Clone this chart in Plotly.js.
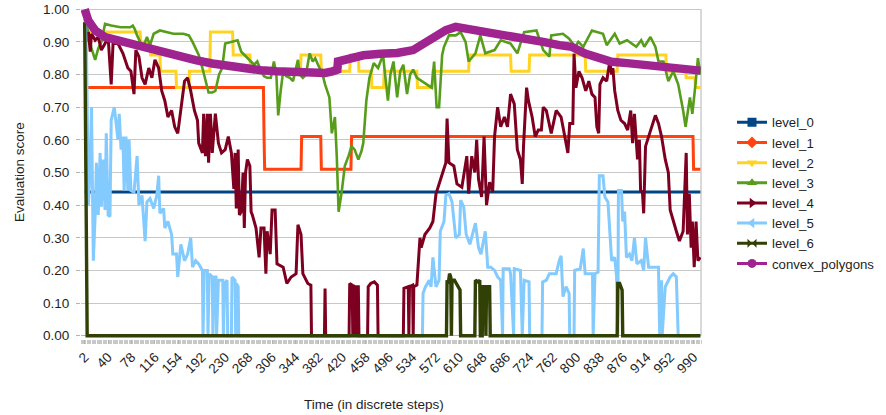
<!DOCTYPE html>
<html>
<head>
<meta charset="utf-8">
<script src="https://cdn.plot.ly/plotly-3.0.1.min.js"></script>
<style>html,body{margin:0;padding:0;background:#fff;}#chart{width:886px;height:415px;}</style>
</head>
<body>
<div id="chart"></div>
<script>
// ---- data: [time step, evaluation score] ----
const seriesNames = ["level_0","level_1","level_2","level_3","level_4","level_5","level_6","convex_polygons"];

const level0 = [[2,0.44],[1001,0.44]];

const level1 = [[2,0.76],[292,0.76],[293,0.61],[294,0.51],[353,0.51],[354,0.61],[385,0.61],[386,0.51],
  [434,0.51],[435,0.61],[989,0.61],[990,0.51],[1001,0.51]];

const level2 = [[2,0.96],[4,0.93],[92,0.93],[93,0.90],[108,0.90],[109,0.86],[124,0.86],[125,0.81],[150,0.81],
  [151,0.76],[171,0.76],[172,0.81],[205,0.81],[206,0.93],[242,0.93],[243,0.86],[270,0.86],[271,0.81],[352,0.81],
  [353,0.86],[385,0.86],[386,0.81],[432,0.81],[433,0.86],[446,0.86],[447,0.81],[467,0.81],[468,0.76],[487,0.76],
  [488,0.81],[541,0.81],[542,0.76],[566,0.76],[567,0.81],[625,0.81],[626,0.86],[693,0.86],[694,0.81],[723,0.81],
  [724,0.86],[814,0.86],[815,0.81],[866,0.81],[867,0.86],[945,0.86],[946,0.81],[977,0.81],[978,0.79],[992,0.79],
  [993,0.76],[1001,0.76]];

const level3 = [[2,0.97],[8,0.93],[13,0.88],[19,0.845],[24,0.88],[29,0.90],[35,0.955],[45,0.95],[60,0.945],
  [76,0.945],[80,0.95],[83,0.94],[87,0.92],[92,0.90],[98,0.89],[103,0.915],[108,0.89],[114,0.925],[124,0.935],
  [135,0.93],[146,0.925],[162,0.925],[171,0.92],[177,0.90],[182,0.88],[187,0.86],[193,0.82],[198,0.78],[203,0.745],
  [209,0.745],[214,0.75],[220,0.80],[225,0.82],[230,0.895],[241,0.90],[250,0.905],[256,0.87],[266,0.85],[277,0.83],
  [282,0.84],[288,0.81],[293,0.795],[298,0.79],[304,0.79],[309,0.84],[313,0.80],[316,0.675],[320,0.75],[324,0.81],
  [329,0.795],[335,0.79],[340,0.78],[348,0.845],[351,0.80],[356,0.79],[361,0.80],[367,0.865],[372,0.84],[376,0.85],
  [383,0.82],[388,0.80],[392,0.77],[399,0.73],[403,0.62],[408,0.67],[411,0.55],[414,0.38],[419,0.44],[424,0.52],
  [430,0.55],[435,0.58],[440,0.57],[446,0.54],[451,0.565],[454,0.59],[459,0.72],[464,0.79],[471,0.835],[478,0.82],
  [486,0.86],[494,0.72],[498,0.80],[503,0.84],[509,0.73],[514,0.81],[519,0.83],[525,0.74],[530,0.80],[535,0.815],
  [541,0.79],[550,0.78],[557,0.77],[565,0.76],[569,0.84],[573,0.70],[577,0.70],[582,0.86],[585,0.885],[593,0.92],
  [604,0.92],[612,0.93],[620,0.90],[625,0.84],[636,0.865],[644,0.92],[652,0.865],[667,0.875],[677,0.905],[693,0.895],
  [704,0.865],[715,0.93],[735,0.935],[746,0.875],[756,0.855],[759,0.92],[778,0.925],[788,0.91],[798,0.885],
  [803,0.90],[811,0.885],[825,0.935],[843,0.925],[849,0.89],[862,0.925],[870,0.895],[882,0.905],[897,0.885],
  [905,0.905],[910,0.885],[920,0.915],[928,0.885],[933,0.84],[941,0.84],[949,0.78],[957,0.81],[965,0.77],
  [973,0.69],[977,0.64],[984,0.73],[988,0.68],[993,0.77],[997,0.85],[1001,0.80]];

const level4 = [[2,0.95],[5,0.90],[8,0.93],[11,0.87],[13,0.925],[19,0.905],[24,0.915],[29,0.875],[35,0.895],
  [40,0.915],[45,0.77],[48,0.895],[56,0.895],[64,0.865],[72,0.82],[77,0.81],[82,0.74],[85,0.875],[90,0.855],
  [95,0.79],[100,0.77],[106,0.82],[111,0.79],[116,0.845],[122,0.82],[127,0.75],[132,0.72],[137,0.67],[143,0.69],
  [148,0.64],[153,0.62],[158,0.70],[164,0.78],[169,0.79],[174,0.75],[180,0.69],[185,0.66],[187,0.59],[193,0.56],
  [195,0.68],[198,0.55],[201,0.68],[203,0.53],[206,0.68],[209,0.56],[214,0.68],[219,0.59],[224,0.56],[230,0.57],
  [235,0.61],[240,0.56],[244,0.45],[246,0.56],[248,0.39],[251,0.57],[253,0.37],[256,0.38],[259,0.50],[261,0.33],
  [263,0.50],[266,0.54],[270,0.52],[272,0.38],[274,0.37],[280,0.33],[285,0.24],[288,0.33],[293,0.33],[296,0.19],
  [298,0.32],[303,0.25],[306,0.385],[311,0.385],[314,0.22],[324,0.21],[330,0.16],[337,0.18],[345,0.19],[348,0.34],
  [353,0.31],[356,0.19],[364,0.16],[369,0.155],[370,0],[391,0],[392,0.145],[393,0],[431,0],[432,0.16],[436,0.155],
  [437,0],[438,0.155],[441,0.14],[442,0],[443,0.15],[446,0.15],[447,0],[461,0],[462,0.15],[466,0.16],[472,0.165],
  [477,0.155],[478,0],[519,0],[520,0.145],[527,0.15],[528,0],[529,0.15],[534,0.155],[535,0],[536,0.15],[541,0.155],
  [546,0.30],[548,0.27],[554,0.31],[562,0.33],[567,0.35],[572,0.435],[577,0.465],[583,0.50],[588,0.53],[590,0.665],
  [593,0.53],[601,0.52],[606,0.465],[614,0.455],[622,0.55],[625,0.435],[630,0.55],[635,0.50],[638,0.60],[641,0.48],
  [646,0.425],[650,0.61],[654,0.40],[659,0.47],[664,0.44],[667,0.61],[672,0.70],[677,0.64],[683,0.67],[688,0.64],
  [693,0.74],[699,0.71],[704,0.57],[709,0.54],[712,0.465],[714,0.58],[719,0.76],[722,0.72],[728,0.67],[733,0.61],
  [738,0.63],[743,0.63],[746,0.70],[751,0.69],[756,0.64],[759,0.62],[767,0.69],[775,0.67],[780,0.62],[786,0.56],
  [789,0.65],[794,0.65],[796,0.864],[799,0.76],[804,0.81],[809,0.79],[815,0.75],[820,0.78],[825,0.74],[830,0.73],
  [833,0.64],[836,0.62],[838,0.77],[843,0.79],[849,0.78],[854,0.84],[857,0.80],[859,0.82],[862,0.75],[867,0.69],
  [872,0.66],[878,0.65],[883,0.63],[888,0.69],[891,0.59],[894,0.68],[899,0.54],[902,0.60],[904,0.445],[907,0.44],
  [909,0.375],[912,0.58],[917,0.61],[922,0.64],[928,0.675],[933,0.65],[938,0.61],[944,0.54],[949,0.50],[952,0.385],
  [957,0.35],[962,0.32],[967,0.29],[973,0.32],[978,0.56],[980,0.31],[983,0.435],[986,0.27],[988,0.35],[991,0.21],
  [994,0.35],[997,0.23],[1001,0.24]];

const level5 = [[2,0.96],[3,0.965],[5,0.86],[8,0.40],[11,0.53],[13,0.70],[16,0.23],[19,0.37],[21,0.53],[24,0.37],
  [27,0.56],[29,0.395],[32,0.54],[35,0.385],[37,0.62],[40,0.37],[43,0.365],[45,0.66],[50,0.70],[53,0.64],[56,0.60],
  [58,0.68],[61,0.57],[64,0.61],[66,0.445],[69,0.61],[72,0.445],[74,0.60],[77,0.445],[82,0.44],[87,0.55],[90,0.40],
  [95,0.43],[100,0.29],[103,0.41],[108,0.42],[114,0.39],[119,0.43],[122,0.49],[124,0.375],[130,0.39],[132,0.33],
  [137,0.35],[143,0.31],[145,0.25],[151,0.25],[153,0.18],[158,0.28],[164,0.23],[169,0.25],[174,0.30],[177,0.21],
  [182,0.23],[187,0.22],[193,0.20],[194,0],[196,0.20],[201,0.20],[202,0],[204,0.19],[209,0.18],[210,0],[212,0.18],
  [215,0.18],[216,0],[219,0.17],[226,0.17],[227,0],[229,0.16],[233,0.17],[234,0],[240,0],[241,0.18],[246,0.17],
  [247,0],[248,0.16],[251,0.15],[252,0],[550,0],[551,0.13],[555,0.15],[561,0.17],[564,0.15],[567,0.24],[572,0.15],
  [577,0.17],[579,0.32],[585,0.35],[588,0.43],[593,0.435],[598,0.41],[604,0.30],[610,0.31],[612,0.415],[617,0.395],
  [621,0.31],[627,0.28],[636,0.345],[641,0.27],[645,0.25],[652,0.32],[656,0.21],[661,0.21],[667,0.20],[672,0.18],
  [677,0.17],[680,0],[681,0.205],[691,0.205],[693,0.19],[698,0],[699,0.205],[709,0.20],[712,0],[715,0.17],
  [723,0.165],[724,0],[744,0],[745,0.165],[751,0.17],[756,0.19],[762,0.19],[767,0.19],[772,0.23],[775,0.245],
  [778,0.12],[783,0.15],[788,0.13],[789,0],[796,0],[797,0.20],[806,0.205],[811,0.267],[814,0.19],[822,0.19],
  [826,0.19],[827,0],[830,0.19],[835,0.195],[837,0.49],[843,0.49],[846,0.425],[851,0.41],[854,0.30],[857,0.23],
  [862,0.24],[865,0.18],[867,0],[868,0.445],[873,0.445],[875,0.35],[878,0.38],[881,0.24],[886,0.25],[890,0.23],
  [894,0.30],[898,0.22],[905,0.23],[909,0.20],[912,0.30],[917,0.21],[925,0.21],[933,0.21],[935,0],[938,0.17],
  [939,0],[944,0.15],[952,0.18],[957,0.19],[962,0.18],[965,0],[1001,0]];

const level6 = [[2,0.96],[3,0.67],[4,0.41],[5,0.14],[6,0],[589,0],[590,0.17],[592,0.16],[594,0.19],[596,0.18],
  [597,0],[598,0.17],[602,0.17],[605,0.16],[608,0.15],[611,0.14],[612,0],[635,0],[636,0.17],[640,0.165],[643,0.17],
  [644,0],[647,0],[648,0.15],[652,0.15],[653,0],[654,0.15],[659,0.15],[660,0],[866,0],[867,0.16],[870,0.16],
  [872,0.15],[874,0.14],[875,0],[1001,0]];

const convexPolygons = [[2,1.00],[8,0.965],[19,0.935],[35,0.915],[56,0.905],[76,0.895],[103,0.88],[130,0.864],
  [155,0.854],[182,0.844],[209,0.834],[234,0.826],[261,0.82],[288,0.813],[313,0.81],[340,0.808],[367,0.806],
  [392,0.805],[404,0.81],[412,0.815],[413,0.84],[430,0.849],[454,0.859],[482,0.864],[509,0.866],[535,0.875],
  [562,0.905],[588,0.936],[604,0.946],[620,0.941],[641,0.936],[667,0.93],[693,0.92],[720,0.91],[746,0.90],
  [772,0.89],[792,0.885],[814,0.864],[835,0.849],[857,0.839],[882,0.835],[909,0.83],[936,0.825],[962,0.82],
  [988,0.815],[1001,0.812]];

const xTickStart = 2, xTickStep = 38;
const yTickStep = 0.1;

// ---- styles ----
const seriesData = [level0, level1, level2, level3, level4, level5, level6, convexPolygons];
const colors = ["#004586","#ff420e","#ffd320","#579d1c","#7e0021","#83caff","#314004","#a0248f"];
const symbols = ["square","diamond","triangle-down","triangle-up","triangle-right","triangle-left","bowtie","circle"];
const widths = [3,3,3,2.6,3,3,3.4,8.5];

const traces = [];
seriesData.forEach((d, i) => {
  traces.push({
    type: "scatter", mode: "lines", name: seriesNames[i], showlegend: false,
    x: d.map(p => p[0]), y: d.map(p => p[1]),
    line: {color: colors[i], width: widths[i]},
    hoverinfo: "skip"
  });
});
// legend entries
seriesNames.forEach((n, i) => {
  traces.push({
    type: "scatter", mode: "lines+markers", name: n, x: [null], y: [null],
    line: {color: colors[i], width: 3},
    marker: {color: colors[i], symbol: symbols[i], size: 9, line: {width: 0}}
  });
});

const font = {family: "'Liberation Sans', Arial, sans-serif", size: 13.5, color: "#1e1e1e"};
const legendFont = {family: "'Liberation Sans', Arial, sans-serif", size: 13.2, color: "#1e1e1e"};

const layout = {
  width: 886, height: 415,
  margin: {l: 81, r: 168, t: 6, b: 76},
  paper_bgcolor: "#ffffff", plot_bgcolor: "#ffffff",
  font: font,
  showlegend: true,
  legend: {x: 1.05, xanchor: "left", y: 0.696, yanchor: "top", font: legendFont,
           bgcolor: "rgba(0,0,0,0)", itemwidth: 30, tracegroupgap: 0},
  xaxis: {
    range: [-4, 1002], tickmode: "linear", tick0: xTickStart, dtick: xTickStep,
    tickangle: -45, showgrid: false, zeroline: false, showline: false,
    ticks: "outside", ticklen: 4, tickcolor: "#b3b3b3",
    minor: {dtick: 2, tick0: 0, ticks: "outside", ticklen: 4, tickcolor: "#c8c8c8", showgrid: false},
    tickfont: font
  },
  yaxis: {
    range: [-0.01, 1.01], tickmode: "linear", tick0: 0, dtick: yTickStep, tickformat: ".2f",
    showgrid: true, gridcolor: "#c8c8c8", gridwidth: 1,
    zeroline: true, zerolinecolor: "#b3b3b3", zerolinewidth: 1,
    showline: false, ticks: "outside", ticklen: 4, tickcolor: "#b3b3b3",
    ticklabelstandoff: 4, tickfont: font
  },
  shapes: [
    {type: "line", xref: "paper", yref: "y", x0: 1, x1: 1, y0: 0, y1: 1, line: {color: "#b3b3b3", width: 1}, layer: "below"}
  ],
  annotations: [
    {text: "Time (in discrete steps)", xref: "paper", yref: "paper", x: 0.473, y: -0.197,
     xanchor: "center", yanchor: "middle", showarrow: false, font: font},
    {text: "Evaluation score", xref: "paper", yref: "paper", x: -0.099, y: 0.5, textangle: -90,
     xanchor: "center", yanchor: "middle", showarrow: false, font: font}
  ]
};

Plotly.newPlot("chart", traces, layout, {displayModeBar: false, staticPlot: true});
</script>
</body>
</html>
